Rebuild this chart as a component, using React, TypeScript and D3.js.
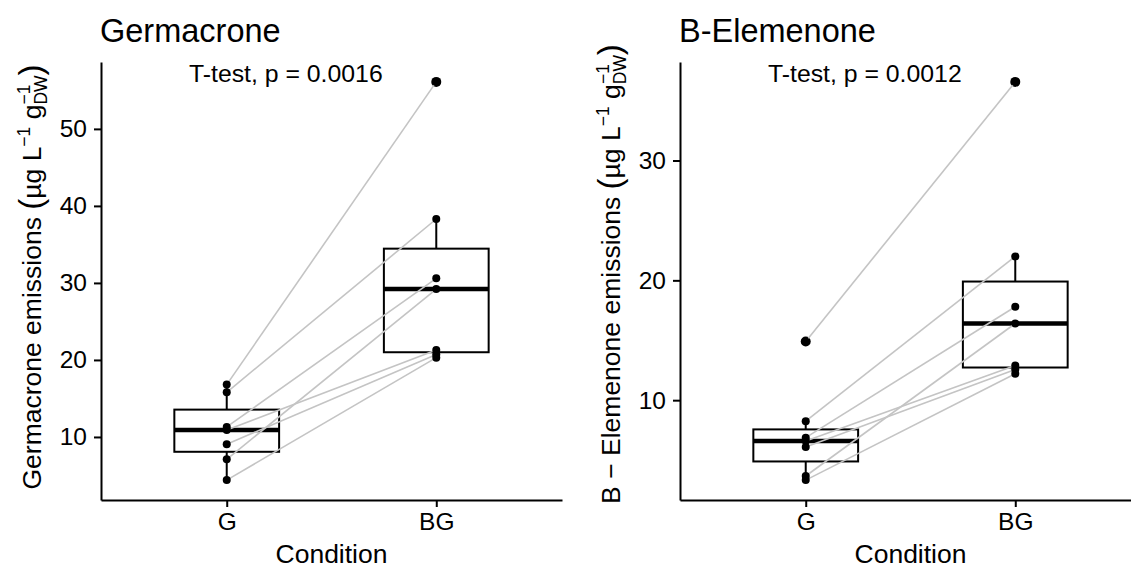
import { useRef, useEffect } from "react";
import * as d3 from "d3";

const WIDTH = 1131;
const HEIGHT = 569;
const FONT = "Liberation Sans, Arial, Helvetica, sans-serif";

const conditions = ["G", "BG"];

// paired replicates: same index in G and BG = same sample
const germacroneG = [16.8, 15.8, 11.3, 10.9, 9.05, 7.1, 4.4];
const germacroneBG = [56.1, 38.3, 30.6, 21.3, 20.7, 29.2, 20.3];
const elemenoneG = [14.9, 8.25, 6.87, 6.6, 6.1, 3.67, 3.33];
const elemenoneBG = [36.56, 22.0, 17.8, 12.9, 12.55, 16.4, 12.2];

const germacroneTicks = [10, 20, 30, 40, 50];
const elemenoneTicks = [10, 20, 30];

const titles = ["Germacrone", "B-Elemenone"];
const pLabels = ["T-test, p = 0.0016", "T-test, p = 0.0012"];
const yTitles = ["Germacrone emissions", "B \u2212 Elemenone emissions"];

const PLOT_TOP = 62;
const PLOT_BOTTOM = 500;

interface Panel {
  title: string;
  pLabel: string;
  yTitle: string;
  g: number[];
  bg: number[];
  ticks: number[];
  x0: number;
  x1: number;
  titleMid: number;
}

const panels: Panel[] = [
  { title: titles[0], pLabel: pLabels[0], yTitle: yTitles[0], g: germacroneG, bg: germacroneBG, ticks: germacroneTicks, x0: 101, x1: 562, titleMid: 277 },
  { title: titles[1], pLabel: pLabels[1], yTitle: yTitles[1], g: elemenoneG, bg: elemenoneBG, ticks: elemenoneTicks, x0: 680, x1: 1141, titleMid: 274 },
];

export default function App() {
  const svgRef = useRef<SVGSVGElement>(null);

  useEffect(() => {
    const svg = d3.select(svgRef.current);
    svg.selectAll("*").remove();

    svg.append("rect").attr("width", WIDTH).attr("height", HEIGHT).attr("fill", "#fff");

    panels.forEach((p) => {
      const all = p.g.concat(p.bg);
      const [mn, mx] = d3.extent(all) as [number, number];
      const pad = (mx - mn) * 0.05;

      const x = d3.scalePoint<string>().domain(conditions).range([p.x0, p.x1]).padding(0.6);
      const y = d3.scaleLinear().domain([mn - pad, mx + pad]).range([PLOT_BOTTOM, PLOT_TOP]);
      const hw = x.step() * 0.25;

      const root = svg.append("g");

      // Boxplots
      [p.g, p.bg].forEach((vals, i) => {
        const cx = x(conditions[i]) as number;
        const s = vals.slice().sort(d3.ascending);
        const q1 = d3.quantile(s, 0.25) as number;
        const med = d3.quantile(s, 0.5) as number;
        const q3 = d3.quantile(s, 0.75) as number;
        const iqr = q3 - q1;
        const lo = q1 - 1.5 * iqr;
        const hi = q3 + 1.5 * iqr;
        const wLo = d3.min(s.filter((v) => v >= lo)) as number;
        const wHi = d3.max(s.filter((v) => v <= hi)) as number;

        root.append("line")
          .attr("x1", cx).attr("x2", cx)
          .attr("y1", y(q3)).attr("y2", y(wHi))
          .attr("stroke", "#000").attr("stroke-width", 2);
        root.append("line")
          .attr("x1", cx).attr("x2", cx)
          .attr("y1", y(q1)).attr("y2", y(wLo))
          .attr("stroke", "#000").attr("stroke-width", 2);
        root.append("rect")
          .attr("x", cx - hw)
          .attr("y", y(q3))
          .attr("width", hw * 2)
          .attr("height", y(q1) - y(q3))
          .attr("fill", "#fff")
          .attr("stroke", "#000")
          .attr("stroke-width", 2);
        root.append("line")
          .attr("x1", cx - hw).attr("x2", cx + hw)
          .attr("y1", y(med)).attr("y2", y(med))
          .attr("stroke", "#000").attr("stroke-width", 4.5);

        s.filter((v) => v < lo || v > hi).forEach((v) => {
          root.append("circle")
            .attr("cx", cx).attr("cy", y(v)).attr("r", 5)
            .attr("fill", "#000");
        });
      });

      // Paired lines
      p.g.forEach((v, i) => {
        root.append("line")
          .attr("x1", x("G") as number).attr("y1", y(v))
          .attr("x2", x("BG") as number).attr("y2", y(p.bg[i]))
          .attr("stroke", "#c4c4c4")
          .attr("stroke-width", 1.6);
      });

      // Points
      [p.g, p.bg].forEach((vals, i) => {
        root.selectAll(null)
          .data(vals)
          .enter()
          .append("circle")
          .attr("cx", x(conditions[i]) as number)
          .attr("cy", (d) => y(d))
          .attr("r", 4)
          .attr("fill", "#000");
      });

      // Axes
      const yAxis = d3.axisLeft(y).tickValues(p.ticks).tickSize(7).tickSizeOuter(0).tickPadding(7);
      root.append("g")
        .attr("transform", `translate(${p.x0},0)`)
        .call(yAxis)
        .call((a) => {
          a.select(".domain").attr("stroke", "#000").attr("stroke-width", 2);
          a.selectAll(".tick line").attr("stroke", "#000").attr("stroke-width", 2);
          a.selectAll(".tick text")
            .attr("fill", "#000")
            .attr("font-size", "24.5px")
            .attr("font-family", FONT);
        });

      const xAxis = d3.axisBottom(x).tickSize(7).tickSizeOuter(0).tickPadding(6);
      root.append("g")
        .attr("transform", `translate(0,${PLOT_BOTTOM})`)
        .call(xAxis)
        .call((a) => {
          a.select(".domain").attr("stroke", "#000").attr("stroke-width", 2);
          a.selectAll(".tick line").attr("stroke", "#000").attr("stroke-width", 2);
          a.selectAll(".tick text")
            .attr("fill", "#000")
            .attr("font-size", "24.5px")
            .attr("font-family", FONT);
        });

      // Title
      root.append("text")
        .attr("x", p.x0 - 1)
        .attr("y", 42)
        .attr("font-size", "32.5px")
        .attr("font-family", FONT)
        .attr("fill", "#000")
        .text(p.title);

      // Test annotation
      root.append("text")
        .attr("x", p.x0 + 88)
        .attr("y", 82)
        .attr("font-size", "24.8px")
        .attr("font-family", FONT)
        .attr("fill", "#000")
        .text(p.pLabel);

      // X title
      root.append("text")
        .attr("x", (p.x0 + p.x1) / 2)
        .attr("y", 563)
        .attr("text-anchor", "middle")
        .attr("font-size", "26.5px")
        .attr("font-family", FONT)
        .attr("fill", "#000")
        .text("Condition");

      // Y title with plotmath-like units
      const yt = root.append("text")
        .attr("transform", `translate(${p.x0 - 60},${p.titleMid}) rotate(-90)`)
        .attr("text-anchor", "middle")
        .attr("font-size", "26.5px")
        .attr("font-family", FONT)
        .attr("fill", "#000");
      yt.append("tspan").text(p.yTitle + " ");
      yt.append("tspan").attr("font-size", "33px").attr("dy", 1).text("(");
      yt.append("tspan").attr("dy", -1).text("\u00b5g L");
      yt.append("tspan").attr("font-size", "17.5px").attr("dy", -11).text("\u22121");
      yt.append("tspan").attr("dy", 11).text(" g");
      yt.append("tspan").attr("font-size", "17.5px").attr("dy", 6).text("DW");
      yt.append("tspan").attr("font-size", "17.5px").attr("dx", -29).attr("dy", -17).text("\u22121");
      yt.append("tspan").attr("font-size", "33px").attr("dx", 9).attr("dy", 12).text(")");
    });
  }, []);

  return (
    <div style={{ position: "absolute", left: 0, top: 0 }}>
      <svg ref={svgRef} width={WIDTH} height={HEIGHT} style={{ display: "block" }} />
    </div>
  );
}
